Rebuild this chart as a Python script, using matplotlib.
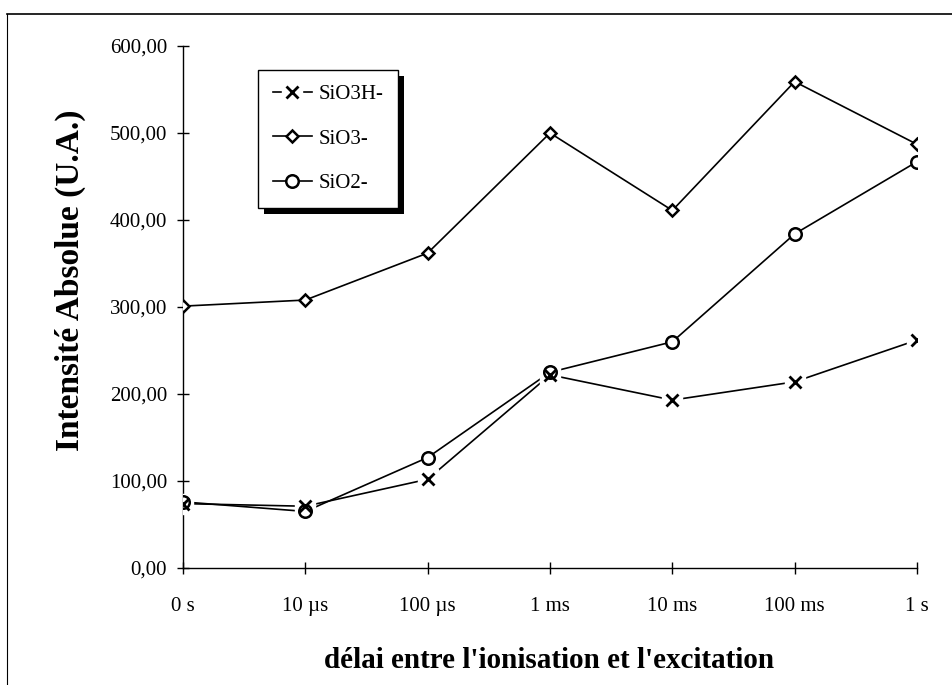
import matplotlib
matplotlib.use("Agg")
import matplotlib.pyplot as plt
from matplotlib.lines import Line2D
from matplotlib.patches import Rectangle

plt.rcParams['font.family'] = ['Liberation Serif', 'DejaVu Serif']

# délais entre ionisation et excitation
delais = ['0 s', '10 µs', '100 µs', '1 ms', '10 ms', '100 ms', '1 s']

# intensités absolues (U.A.)
sio3h = [74, 71, 102, 222, 193, 214, 262]
sio3 = [301, 308, 362, 500, 411, 559, 487]
sio2 = [76, 65, 127, 225, 260, 384, 467]

y_ticks = [0, 100, 200, 300, 400, 500, 600]

W, H = 953, 685
fig = plt.figure(figsize=(W / 100, H / 100), dpi=100)
fig.patch.set_facecolor('white')
ax = fig.add_axes([183 / W, 1 - 568 / H, (917 - 183) / W, (568 - 46) / H])
ax.set_facecolor('none')

x = list(range(len(delais)))

# traits
ax.plot(x, sio3h, color='black', lw=1.2, zorder=2)
ax.plot(x, sio3, color='black', lw=1.2, zorder=2)
ax.plot(x, sio2, color='black', lw=1.2, zorder=2)

# fond blanc autour des croix
blanc, = ax.plot(x, sio3h, ls='none', marker='s', ms=14, mfc='white', mec='white', zorder=3)

# marqueurs
croix, = ax.plot(x, sio3h, ls='none', marker='x', ms=8, mew=2, color='black', zorder=5)
losange, = ax.plot(x, sio3, ls='none', marker='D', ms=6.5, mew=1.8, mfc='white', mec='black', zorder=4)
rond, = ax.plot(x, sio2, ls='none', marker='o', ms=9, mew=1.8, mfc='white', mec='black', zorder=4)

ax.set_xlim(0, len(delais) - 1)
ax.set_ylim(0, 600)
ax.set_xticks(x)
ax.set_xticklabels(delais)
ax.set_yticks(y_ticks)
ax.set_yticklabels([f"{v:.2f}".replace('.', ',') for v in y_ticks])

for s in ['top', 'right']:
    ax.spines[s].set_visible(False)
for s in ['left', 'bottom']:
    ax.spines[s].set_linewidth(1.0)
    ax.spines[s].set_clip_on(False)

ax.tick_params(axis='y', direction='inout', length=9, width=1, pad=7, labelsize=15)
ax.tick_params(axis='x', direction='inout', length=8, width=1, pad=17, labelsize=15)

fig.text(549 / W, 1 - 660 / H, "délai entre l'ionisation et l'excitation",
         ha='center', va='center', fontsize=21, fontweight='bold')
fig.text(70 / W, 1 - 280 / H, "Intensité Absolue (U.A.)", rotation=90,
         ha='center', va='center', fontsize=24, fontweight='bold')

# légende
trait1 = Line2D([], [], color='black', lw=1.2)
trait2 = Line2D([], [], color='black', lw=1.2)
trait3 = Line2D([], [], color='black', lw=1.2)
leg = ax.legend([(trait1, blanc, croix), (trait2, losange), (trait3, rond)],
                ['SiO3H-', 'SiO3-', 'SiO2-'],
                loc='upper left', bbox_to_anchor=(258 / W, 1 - 70 / H),
                bbox_transform=fig.transFigure, borderaxespad=0,
                fontsize=15, frameon=True, fancybox=False, shadow=False,
                framealpha=1, facecolor='white',
                handlelength=1.9, handletextpad=0.3, labelspacing=1.2,
                borderpad=0.7, numpoints=1)
leg.get_frame().set_edgecolor('black')
leg.get_frame().set_linewidth(1.0)
leg.set_zorder(6)

# ombre portée de la légende
fig.canvas.draw()
bb = leg.get_window_extent()
inv = ax.transAxes.inverted()
(x0, y0) = inv.transform((bb.x0 + 6, bb.y0 - 6))
(x1, y1) = inv.transform((bb.x1 + 6, bb.y1 - 6))
ax.add_patch(Rectangle((x0, y0), x1 - x0, y1 - y0, transform=ax.transAxes,
                       facecolor='black', edgecolor='none', zorder=5.5, clip_on=False))

# cadre du graphique
fig.add_artist(Line2D([7 / W, 1], [1 - 14 / H, 1 - 14 / H], transform=fig.transFigure,
                      color='black', lw=1.2))
fig.add_artist(Line2D([7 / W, 7 / W], [0, 1 - 14 / H], transform=fig.transFigure,
                      color='black', lw=0.8))

fig.savefig('out.png', dpi=100)
